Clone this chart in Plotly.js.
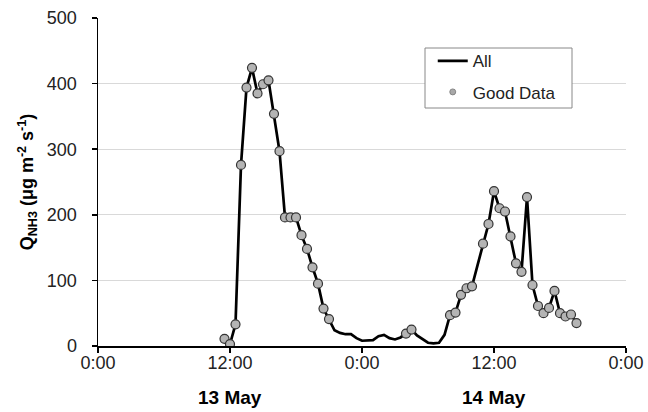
<!DOCTYPE html>
<html>
<head>
<meta charset="utf-8">
<script src="https://cdn.plot.ly/plotly-3.0.1.min.js"></script>
<style>html,body{margin:0;padding:0;background:#fff;}#chart{width:648px;height:412px;}</style>
</head>
<body>
<div id="chart"></div>
<script>
// Hours since 13 May 0:00
const allHours = [11.5,12,12.5,13,13.5,14,14.5,15,15.5,16,16.5,17,17.5,18,18.5,19,19.5,20,20.5,21,21.5,22,22.5,23,23.5,24,24.5,25,25.5,26,26.5,27,27.5,28,28.5,29,29.5,30,30.5,31,31.5,32,32.5,33,33.5,34,34.5,35,35.5,36,36.5,37,37.5,38,38.5,39,39.5,40,40.5,41,41.5,42,42.5,43,43.5];
const allFlux = [11,3,33,276,394,424,385,399,405,354,297,196,196,196,169,148,120,95,57,41,24,20,18,18,12,8,8,9,15,17,12,10,13,19,25,16,11,5,4,5,17,47,51,78,88,91,123,156,186,236,210,205,167,126,113,227,93,61,50,58,84,50,45,48,35];
const goodHours = [11.5,12,12.5,13,13.5,14,14.5,15,15.5,16,16.5,17,17.5,18,18.5,19,19.5,20,20.5,21,28,28.5,32,32.5,33,33.5,34,35,35.5,36,36.5,37,37.5,38,38.5,39,39.5,40,40.5,41,41.5,42,42.5,43,43.5];
const goodFlux = [11,3,33,276,394,424,385,399,405,354,297,196,196,196,169,148,120,95,57,41,19,25,47,51,78,88,91,156,186,236,210,205,167,126,113,227,93,61,50,58,84,50,45,48,35];
const tickHours = [0,12,24,36,48];
const tickLabels = ["0:00","12:00","0:00","12:00","0:00"];
const dayLabels = ["13 May","14 May"];
const dayCenters = [12,36];

const font = "Liberation Sans, Arial, sans-serif";
const traces = [
  {x: allHours, y: allFlux, mode: "lines", name: "All", legendgroup: "a",
   line: {color: "#000", width: 2.7}},
  {x: goodHours, y: goodFlux, mode: "markers", name: "Good Data", showlegend: false,
   marker: {color: "#b4b4b4", size: 9, line: {color: "#333", width: 1.2}}},
  // legend-only entry with a small symbol, as in the reference legend
  {x: [null], y: [null], mode: "markers", name: "Good Data", legendgroup: "b",
   marker: {color: "#a8a8a8", size: 6, line: {color: "#777", width: 0.8}}}
];
const layout = {
  width: 648, height: 412,
  margin: {l: 98, r: 22, t: 18, b: 66},
  paper_bgcolor: "#fff", plot_bgcolor: "#fff",
  font: {family: font, size: 18, color: "#222"},
  showlegend: true,
  legend: {x: 0.634, y: 0.923, xanchor: "left", yanchor: "top",
    borderwidth: 0, bgcolor: "rgba(0,0,0,0)", tracegroupgap: 6, traceorder: "grouped",
    font: {family: font, size: 17, color: "#222"}},
  shapes: [{type: "rect", xref: "paper", yref: "paper",
    x0: (425 - 98) / 528, x1: (572 - 98) / 528, y0: (346 - 108) / 328, y1: (346 - 48) / 328,
    line: {color: "#888", width: 1}, fillcolor: "#fff", layer: "above"}],
  xaxis: {range: [0, 48], tickvals: tickHours, ticktext: tickLabels,
    showgrid: false, zeroline: false, showline: true, linecolor: "#000", linewidth: 1.5,
    ticks: "outside", ticklen: 5, tickcolor: "#000", tickwidth: 1.5, ticklabelstandoff: -5,
    tickfont: {family: font, size: 18, color: "#222"}, fixedrange: true},
  yaxis: {range: [0, 500], dtick: 100, tick0: 0,
    showgrid: true, gridcolor: "#d9d9d9", gridwidth: 1, zeroline: false,
    showline: true, linecolor: "#000", linewidth: 1.5,
    ticks: "outside", ticklen: 5, tickcolor: "#000", tickwidth: 1.5, ticklabelstandoff: 11,
    tickfont: {family: font, size: 18, color: "#222"},
    title: {text: "<b>Q<sub>NH3</sub> (μg m<sup>-2</sup> s<sup>-1</sup>)</b>",
      font: {family: font, size: 18, color: "#000"}, standoff: 8}},
  annotations: dayLabels.map((t, i) => ({
    x: dayCenters[i], xref: "x", y: -0.1585, yref: "paper",
    text: "<b>" + t + "</b>", showarrow: false, yanchor: "middle",
    font: {family: font, size: 19, color: "#000"}
  }))
};
Plotly.newPlot("chart", traces, layout, {displayModeBar: false, staticPlot: true});
</script>
</body>
</html>
